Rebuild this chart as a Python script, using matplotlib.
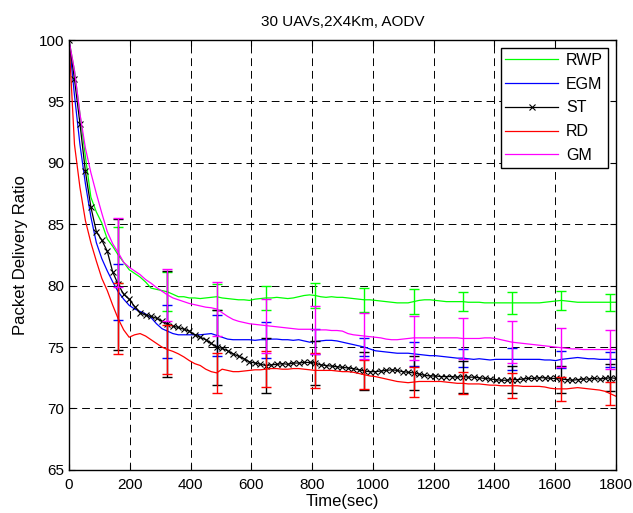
import numpy as np
import matplotlib
matplotlib.use('Agg')
import matplotlib.pyplot as plt

plt.rcParams['font.family'] = ['Liberation Sans', 'DejaVu Sans']

# time axis, one sample every 18 s
t = np.arange(0, 1801, 18)

rwp = [100, 97.5, 94.0, 90.5, 87.2, 86.0, 85.1, 83.8, 83.2, 82.5,
       81.9, 81.3, 81.0, 80.7, 80.3, 79.8, 79.7, 79.6, 79.5, 79.3,
       79.1, 79.1, 79.0, 79.0, 78.95, 79.0, 79.05, 79.1, 79.0, 78.95,
       78.9, 78.85, 78.85, 78.8, 78.9, 78.95, 79.0, 79.0, 79.05, 79.0,
       78.95, 79.0, 79.1, 79.2, 79.25, 79.2, 79.1, 79.05, 79.1, 79.05,
       79.05, 79.0, 78.95, 78.9, 78.85, 78.85, 78.8, 78.75, 78.7, 78.65,
       78.6, 78.6, 78.6, 78.7, 78.8, 78.85, 78.85, 78.8, 78.75, 78.7,
       78.7, 78.7, 78.7, 78.65, 78.65, 78.65, 78.6, 78.6, 78.6, 78.6,
       78.6, 78.6, 78.6, 78.6, 78.6, 78.6, 78.6, 78.65, 78.7, 78.75,
       78.8, 78.75, 78.7, 78.65, 78.65, 78.65, 78.65, 78.65, 78.65, 78.65,
       78.65]

egm = [100, 95.5, 91.5, 88.3, 85.6, 83.5, 82.2, 81.2, 80.3, 79.5,
       78.9, 78.4, 78.1, 77.9, 77.7, 77.4, 76.9, 76.5, 76.3, 76.1,
       76.0, 76.0, 76.0, 76.0, 76.0, 76.05, 76.1, 75.95, 75.8, 75.65,
       75.6, 75.6, 75.6, 75.6, 75.55, 75.6, 75.6, 75.65, 75.65, 75.6,
       75.6, 75.55, 75.6, 75.5, 75.4, 75.45, 75.5, 75.55, 75.55, 75.5,
       75.4, 75.3, 75.2, 75.1, 75.0, 74.85, 74.7, 74.65, 74.6, 74.55,
       74.5, 74.5, 74.5, 74.45, 74.4, 74.35, 74.3, 74.3, 74.25, 74.2,
       74.15, 74.1, 74.1, 74.05, 74.0, 74.05, 74.0, 73.95, 74.0, 74.0,
       74.0, 74.0, 74.0, 74.0, 74.0, 74.0, 74.0, 73.95, 73.95, 73.9,
       74.0, 74.05, 74.1, 74.15, 74.1, 74.05, 74.05, 74.0, 74.0, 74.0,
       74.0]

st = [100, 96.8, 93.2, 89.3, 86.4, 84.4, 83.7, 82.8, 81.1, 80.1,
      79.3, 78.9, 78.3, 77.8, 77.6, 77.5, 77.35, 77.1, 76.9, 76.7,
      76.6, 76.45, 76.3, 76.0, 75.8, 75.6, 75.3, 75.0, 74.9, 74.7,
      74.45, 74.25, 74.05, 73.8, 73.7, 73.6, 73.5, 73.55, 73.6, 73.65,
      73.6, 73.7, 73.7, 73.75, 73.75, 73.7, 73.55, 73.5, 73.45, 73.4,
      73.35, 73.3, 73.25, 73.15, 73.05, 73.0, 73.0, 73.05, 73.1, 73.15,
      73.1, 73.0, 72.95, 72.9, 72.8, 72.7, 72.65, 72.65, 72.6, 72.6,
      72.6, 72.55, 72.6, 72.55, 72.55, 72.5, 72.45, 72.4, 72.35, 72.3,
      72.3, 72.35, 72.35, 72.4, 72.45, 72.45, 72.5, 72.5, 72.45, 72.45,
      72.4, 72.35, 72.3, 72.35, 72.4, 72.4, 72.45, 72.4, 72.45, 72.5,
      72.45]

rd = [100, 91.5, 88.0, 85.3, 83.5, 82.0, 80.6, 79.6, 78.4, 77.3,
      76.4, 75.8, 76.0, 76.1, 75.9, 75.6, 75.3, 75.0, 74.8, 74.65,
      74.45, 74.2, 73.9, 73.65, 73.5, 73.2, 73.0, 72.9, 73.2, 73.1,
      73.0, 73.0, 73.05, 73.1, 73.15, 73.15, 73.2, 73.25, 73.25, 73.2,
      73.2, 73.25, 73.25, 73.2, 73.15, 73.1, 73.1, 73.1, 73.1, 73.05,
      73.0, 73.0, 72.95, 72.85, 72.75, 72.65, 72.6, 72.5, 72.4, 72.3,
      72.2, 72.15, 72.1, 72.15, 72.2, 72.2, 72.2, 72.2, 72.2, 72.15,
      72.1, 72.05, 72.05, 72.0, 72.0, 72.0, 71.95, 71.9, 71.9, 71.85,
      71.85, 71.85, 71.85, 71.8, 71.8, 71.8, 71.8, 71.75, 71.65, 71.6,
      71.6, 71.6, 71.65, 71.7, 71.65, 71.6, 71.55, 71.5, 71.4, 71.2,
      71.0]

gm = [100, 97.5, 94.0, 91.2, 89.2, 87.5, 85.9, 84.4, 83.4, 82.7,
      81.9, 81.5, 81.2, 80.9, 80.5, 80.2, 79.85, 79.55, 79.25, 79.0,
      78.85, 78.7, 78.55, 78.45, 78.35, 78.25, 78.2, 78.1, 77.8, 77.5,
      77.25, 77.1, 77.0, 76.9, 76.85, 76.8, 76.75, 76.7, 76.65, 76.6,
      76.55, 76.5, 76.45, 76.45, 76.45, 76.4, 76.4, 76.4, 76.35, 76.35,
      76.3, 76.1, 76.0, 75.95, 75.9, 75.85, 75.8, 75.75, 75.65, 75.6,
      75.6, 75.65, 75.7, 75.75, 75.75, 75.75, 75.75, 75.75, 75.75, 75.75,
      75.75, 75.75, 75.7, 75.7, 75.7, 75.7, 75.75, 75.75, 75.7, 75.6,
      75.5, 75.4, 75.35, 75.3, 75.25, 75.2, 75.15, 75.1, 75.05, 75.0,
      74.95, 74.9, 74.85, 74.85, 74.8, 74.8, 74.8, 74.8, 74.8, 74.8,
      74.8]

# error bars every 9th sample (162 s)
err_idx = np.arange(9, 101, 9)
rwp_err = [2.3, 1.6, 1.05, 0.95, 1.05, 1.0, 1.0, 0.8, 0.9, 0.8, 0.7]
egm_err = [2.3, 2.15, 1.7, 1.45, 1.05, 0.7, 1.0, 0.75, 0.9, 0.7, 0.6]
st_err = [5.3, 4.3, 3.05, 2.2, 1.8, 1.55, 1.4, 1.3, 1.1, 1.1, 1.1]
rd_err = [2.9, 2.0, 1.65, 1.45, 1.4, 1.2, 1.2, 0.9, 1.0, 1.0, 0.95]
gm_err = [2.8, 2.1, 2.2, 2.2, 1.95, 1.85, 1.8, 1.7, 1.7, 1.6, 1.6]

series = [
    ('RWP', rwp, rwp_err, '#00ff00', None),
    ('EGM', egm, egm_err, '#0000ff', None),
    ('ST', st, st_err, 'black', 'x'),
    ('RD', rd, rd_err, '#ff0000', None),
    ('GM', gm, gm_err, '#ff00ff', None),
]

fig = plt.figure(figsize=(6.33, 5.13), dpi=100)
ax = fig.add_axes([0.109, 0.084, 0.864, 0.838])

for name, y, e, c, m in series:
    y = np.array(y)
    ax.plot(t, y, color=c, lw=0.9, marker=m, markersize=4, markeredgewidth=0.8,
            label=name)
    ax.errorbar(t[err_idx], y[err_idx], yerr=e, fmt='none', ecolor=c,
                elinewidth=1.0, capsize=3.5, capthick=1.0)

ax.set_xlim(0, 1800)
ax.set_ylim(65, 100)
ax.set_xticks(np.arange(0, 1801, 200))
ax.set_yticks(np.arange(65, 101, 5))
ax.tick_params(direction='in', top=True, right=True, length=4, labelsize=11)
ax.tick_params(axis='x', pad=5.5)
ax.grid(True, color='black', linestyle=(0, (8, 5)), lw=0.7)
for s in ax.spines.values():
    s.set_linewidth(1.0)

ax.set_title('30 UAVs,2X4Km, AODV', fontsize=11, pad=10)
ax.set_xlabel('Time(sec)', fontsize=12, labelpad=2)
ax.set_ylabel('Packet Delivery Ratio', fontsize=12, labelpad=8)

leg = ax.legend(loc='upper right', fontsize=11.5, handlelength=3.3,
                handletextpad=0.5, fancybox=False, framealpha=1,
                edgecolor='black', borderaxespad=0.5, labelspacing=0.55,
                borderpad=0.3)
leg.get_frame().set_linewidth(1.0)

fig.savefig('out.png', dpi=100)
